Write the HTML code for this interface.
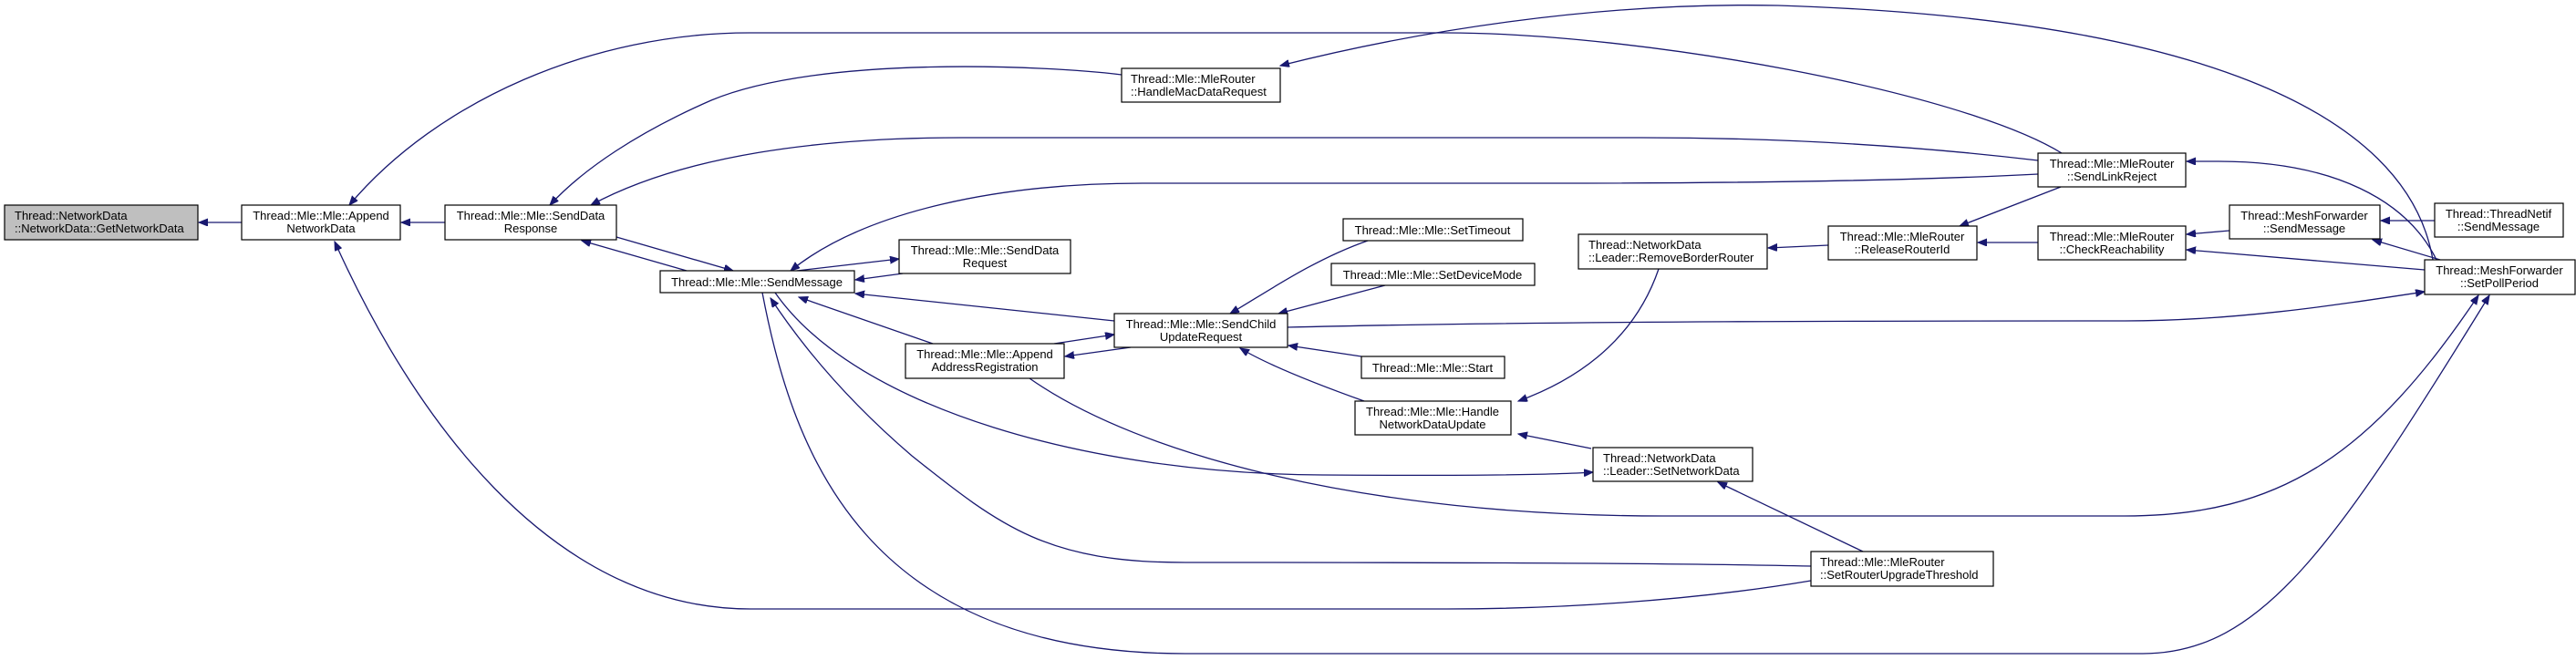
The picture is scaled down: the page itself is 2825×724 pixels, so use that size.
<!DOCTYPE html>
<html><head><meta charset="utf-8"><style>
html,body{margin:0;padding:0;background:#fff;}
svg{display:block;}
text{font-family:"Liberation Sans",Helvetica,Arial,sans-serif;font-size:13px;fill:#000;}
.e{fill:none;stroke:#191970;stroke-width:1.3;}
.n{fill:#fff;stroke:#000;stroke-width:1.2;}
</style></head><body>
<svg width="2825" height="724" viewBox="0 0 2825 724" xmlns="http://www.w3.org/2000/svg">
<defs><marker id="a" markerWidth="11" markerHeight="9" refX="10" refY="4" orient="auto" markerUnits="userSpaceOnUse"><path d="M0,0 L10,4 L0,8 z" fill="#191970" stroke="#191970"/></marker></defs>
<g marker-end="url(#a)">
<path class="e" d="M265,244 L218,244"/>
<path class="e" d="M488,244 L440,244"/>
<path class="e" d="M2261,168 C2150,100 1800,36 1585,36 L822,36 C650,36 480,110 383,225"/>
<path class="e" d="M2668,285 C2640,120 2400,20 1950,6 C1750,2 1550,35 1404,72"/>
<path class="e" d="M1230,82 C1150,72 900,60 780,110 C700,145 640,185 603,225"/>
<path class="e" d="M2235,176 C2100,160 1950,151 1800,151 L1055,151 C900,151 750,170 648,225"/>
<path class="e" d="M2235,191 C2100,198 1900,201 1700,201 L1253,201 C1100,201 950,230 867,297"/>
<path class="e" d="M676,260 L804,297"/>
<path class="e" d="M753,297 L638,264"/>
<path class="e" d="M874,297 L986,284"/>
<path class="e" d="M990,300 L938,307"/>
<path class="e" d="M1222,352 L938,322"/>
<path class="e" d="M1023,377 L876,326"/>
<path class="e" d="M1156,377 L1222,367"/>
<path class="e" d="M1240,381 L1168,391"/>
<path class="e" d="M1500,264 C1440,285 1390,320 1349,344"/>
<path class="e" d="M1519,313 L1402,344"/>
<path class="e" d="M1493,391 L1413,379"/>
<path class="e" d="M1496,440 C1440,420 1390,400 1360,382"/>
<path class="e" d="M1412,359 C1700,352 2100,352 2330,352 C2450,352 2560,335 2659,320"/>
<path class="e" d="M1819,295 C1790,380 1720,420 1665,440"/>
<path class="e" d="M1745,492 L1665,476"/>
<path class="e" d="M2005,269 L1939,272"/>
<path class="e" d="M2260,205 L2149,248"/>
<path class="e" d="M2235,266 L2169,266"/>
<path class="e" d="M2445,253 L2398,257"/>
<path class="e" d="M2659,296 L2398,274"/>
<path class="e" d="M2676,285 L2602,263"/>
<path class="e" d="M2670,242 L2611,242"/>
<path class="e" d="M2672,285 C2640,220 2560,177 2433,177 L2398,177"/>
<path class="e" d="M2043,605 L1884,529"/>
<path class="e" d="M850,321 C940,450 1200,520 1450,521 C1600,522 1700,521 1747,518"/>
<path class="e" d="M1986,621 C1800,617 1500,617 1300,617 C1150,617 1100,580 1000,500 C930,440 880,380 845,327"/>
<path class="e" d="M836,321 C870,500 950,717 1300,717 L2350,717 C2480,717 2560,600 2730,324"/>
<path class="e" d="M1129,415 C1250,500 1500,566 1823,566 L2330,566 C2500,566 2600,500 2718,324"/>
<path class="e" d="M1986,637 C1850,660 1700,668 1587,668 L823,668 C600,668 450,450 367,265"/>
</g>
<g>
<rect class="n" x="5" y="225" width="212" height="38" fill="#bfbfbf" style="fill:#bfbfbf"/>
<text x="16" y="241">Thread::NetworkData</text><text x="16" y="255">::NetworkData::GetNetworkData</text>

<rect class="n" x="265" y="225" width="174" height="38"/>
<text x="352" y="241" text-anchor="middle">Thread::Mle::Mle::Append</text><text x="352" y="255" text-anchor="middle">NetworkData</text>

<rect class="n" x="488" y="225" width="188" height="38"/>
<text x="582" y="241" text-anchor="middle">Thread::Mle::Mle::SendData</text><text x="582" y="255" text-anchor="middle">Response</text>

<rect class="n" x="724" y="297" width="213" height="24"/>
<text x="830" y="314" text-anchor="middle">Thread::Mle::Mle::SendMessage</text>

<rect class="n" x="986" y="263" width="188" height="37"/>
<text x="1080" y="279" text-anchor="middle">Thread::Mle::Mle::SendData</text><text x="1080" y="293" text-anchor="middle">Request</text>

<rect class="n" x="1473" y="240" width="197" height="24"/>
<text x="1571" y="257" text-anchor="middle">Thread::Mle::Mle::SetTimeout</text>

<rect class="n" x="1460" y="289" width="223" height="24"/>
<text x="1571" y="306" text-anchor="middle">Thread::Mle::Mle::SetDeviceMode</text>

<rect class="n" x="1222" y="344" width="190" height="37"/>
<text x="1317" y="360" text-anchor="middle">Thread::Mle::Mle::SendChild</text><text x="1317" y="374" text-anchor="middle">UpdateRequest</text>

<rect class="n" x="993" y="377" width="174" height="38"/>
<text x="1080" y="393" text-anchor="middle">Thread::Mle::Mle::Append</text><text x="1080" y="407" text-anchor="middle">AddressRegistration</text>

<rect class="n" x="1493" y="391" width="157" height="24"/>
<text x="1571" y="408" text-anchor="middle">Thread::Mle::Mle::Start</text>

<rect class="n" x="1486" y="440" width="171" height="37"/>
<text x="1571" y="456" text-anchor="middle">Thread::Mle::Mle::Handle</text><text x="1571" y="470" text-anchor="middle">NetworkDataUpdate</text>

<rect class="n" x="1731" y="257" width="207" height="38"/>
<text x="1742" y="273">Thread::NetworkData</text><text x="1742" y="287">::Leader::RemoveBorderRouter</text>

<rect class="n" x="1747" y="491" width="175" height="37"/>
<text x="1758" y="507">Thread::NetworkData</text><text x="1758" y="521">::Leader::SetNetworkData</text>

<rect class="n" x="2235" y="168" width="162" height="37"/>
<text x="2316" y="184" text-anchor="middle">Thread::Mle::MleRouter</text><text x="2316" y="198" text-anchor="middle">::SendLinkReject</text>

<rect class="n" x="2005" y="248" width="163" height="37"/>
<text x="2086" y="264" text-anchor="middle">Thread::Mle::MleRouter</text><text x="2086" y="278" text-anchor="middle">::ReleaseRouterId</text>

<rect class="n" x="2235" y="248" width="162" height="37"/>
<text x="2316" y="264" text-anchor="middle">Thread::Mle::MleRouter</text><text x="2316" y="278" text-anchor="middle">::CheckReachability</text>

<rect class="n" x="2445" y="225" width="165" height="37"/>
<text x="2527" y="241" text-anchor="middle">Thread::MeshForwarder</text><text x="2527" y="255" text-anchor="middle">::SendMessage</text>

<rect class="n" x="2670" y="223" width="141" height="37"/>
<text x="2740" y="239" text-anchor="middle">Thread::ThreadNetif</text><text x="2740" y="253" text-anchor="middle">::SendMessage</text>

<rect class="n" x="2659" y="285" width="165" height="38"/>
<text x="2741" y="301" text-anchor="middle">Thread::MeshForwarder</text><text x="2741" y="315" text-anchor="middle">::SetPollPeriod</text>

<rect class="n" x="1230" y="75" width="174" height="37"/>
<text x="1240" y="91">Thread::Mle::MleRouter</text><text x="1240" y="105">::HandleMacDataRequest</text>

<rect class="n" x="1986" y="605" width="200" height="38"/>
<text x="1996" y="621">Thread::Mle::MleRouter</text><text x="1996" y="635">::SetRouterUpgradeThreshold</text>
</g>
</svg>
</body></html>
